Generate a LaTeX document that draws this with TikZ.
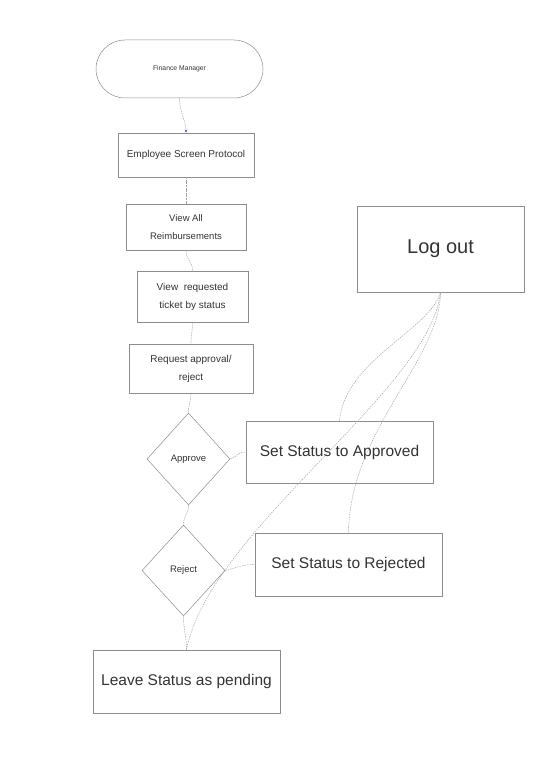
\documentclass[tikz,border=0pt]{standalone}
\usepackage{fontspec}
\setmainfont{Liberation Sans}
\usetikzlibrary{shapes.geometric,arrows.meta}
\definecolor{boxgray}{HTML}{8C8C8C}
\definecolor{lngray}{HTML}{A0A0A0}
\definecolor{txt}{HTML}{333333}
\definecolor{arrowblue}{HTML}{3A3AB0}
\begin{document}
\begin{tikzpicture}[x=1pt,y=-1pt,
  box/.style={draw=boxgray, line width=0.5pt, text=txt, align=center, inner sep=0pt},
  dia/.style={box, diamond, aspect=0.9},
  conn/.style={draw=lngray, line width=0.45pt, dash pattern=on 1.5pt off 1pt},
  small/.style={font=\fontsize{10}{18}\selectfont},
  big/.style={font=\fontsize{15.5}{18}\selectfont}]
\useasboundingbox (0,0) rectangle (556,765);

\node[box, rounded corners=29pt, minimum width=167pt, minimum height=58pt,
      font=\fontsize{6.8}{8}\selectfont] (fm) at (179.5,69) {Finance Manager};
\node[box, small, minimum width=136pt, minimum height=44pt] (esp) at (186,155) {Employee Screen Protocol};
\node[box, font=\fontsize{9.5}{18}\selectfont, minimum width=120pt, minimum height=46pt] (va) at (186,227) {View All\\Reimbursements};
\node[box, small, minimum width=111pt, minimum height=51pt] (vr) at (192.5,296.5) {View\ \ requested\\ticket by status};
\node[box, small, minimum width=124pt, minimum height=49pt] (ra) at (191,368.5) {Request approval/\\reject};
\node[dia, font=\fontsize{9.5}{11}\selectfont, minimum width=83pt, minimum height=92pt] (ap) at (188.5,459) {Approve};
\node[dia, font=\fontsize{9.5}{11}\selectfont, minimum width=83pt, minimum height=91pt] (rj) at (183.5,570.5) {Reject};
\node[box, big, minimum width=187pt, minimum height=62pt] (sa) at (339.5,452) {Set Status to Approved};
\node[box, font=\fontsize{20}{24}\selectfont, minimum width=167pt, minimum height=86pt] (lo) at (440.5,249) {Log out};
\node[box, big, minimum width=187pt, minimum height=63pt] (sr) at (348.5,564.5) {Set Status to Rejected};
\node[box, big, minimum width=187pt, minimum height=63pt] (lv) at (186.5,681.5) {Leave Status as pending};

\draw[conn, -{Stealth[length=3pt,width=2.5pt,color=arrowblue]}]
  (fm.south) .. controls +(0,14) and +(0,-12) .. (esp.north);
\draw[conn, dash pattern=on 2pt off 0.6pt] (esp.south) -- (va.north);
\draw[conn] (va.south) .. controls +(0,10) and +(0,-10) .. (vr.north);
\draw[conn] (vr.south) .. controls +(0,10) and +(0,-10) .. (ra.north);
\draw[conn] (ra.south) .. controls +(0,10) and +(0,-10) .. (ap.north);
\draw[conn] (ap.east) .. controls +(8,-3) and +(-8,0) .. (sa.west);
\draw[conn] (ap.south) .. controls +(0,10) and +(0,-10) .. (rj.north);
\draw[conn] (rj.east) .. controls +(12,-3) and +(-12,0) .. (sr.west);
\draw[conn] (rj.south) .. controls +(0,12) and +(0,-12) .. (lv.north);
\draw[conn] (sa.north) .. controls (345,360) and (430,330) .. (lo.south);
\draw[conn] (sr.north) .. controls (350,430) and (440,360) .. (lo.south);
\draw[conn] (lv.north) .. controls (210,530) and (430,390) .. (lo.south);
\end{tikzpicture}
\end{document}
